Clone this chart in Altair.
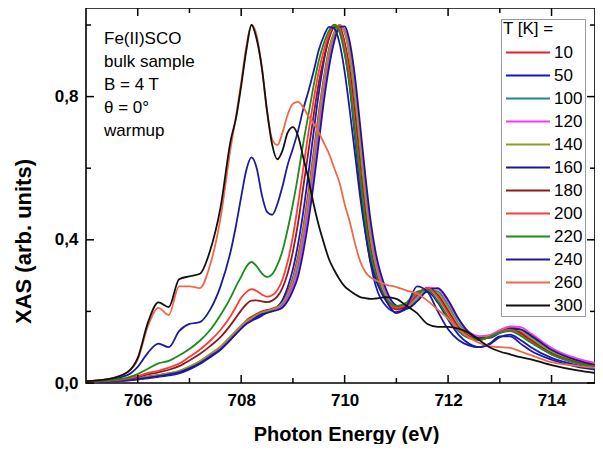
import altair as alt
import pandas as pd

# ---------------- data ----------------
energy = [705.0, 705.4, 705.8, 706.0, 706.2, 706.4, 706.6, 706.8, 707.0, 707.2, 707.4, 707.6, 707.8,
          707.9, 708.0, 708.1, 708.2, 708.3, 708.4, 708.5, 708.6, 708.7, 708.8, 708.9, 709.0, 709.1, 709.2,
          709.3, 709.4, 709.5, 709.6, 709.7, 709.8, 709.9, 710.0, 710.1, 710.2, 710.3, 710.4, 710.5, 710.6,
          710.8, 711.0, 711.2, 711.4, 711.6, 711.8, 712.0, 712.2, 712.4, 712.6, 712.8, 713.0, 713.2, 713.4,
          713.6, 714.0, 714.5, 715.0]

t10 = [0.003, 0.005, 0.009, 0.013, 0.018, 0.023, 0.027, 0.032, 0.045, 0.06, 0.08, 0.1, 0.13,
       0.145, 0.16, 0.175, 0.185, 0.193, 0.2, 0.204, 0.208, 0.214, 0.228, 0.255, 0.295, 0.355, 0.435,
       0.535, 0.645, 0.755, 0.855, 0.935, 0.98, 1.0, 0.98, 0.91, 0.79, 0.645, 0.505, 0.39, 0.315,
       0.232, 0.205, 0.208, 0.238, 0.265, 0.248, 0.203, 0.158, 0.133, 0.125, 0.13, 0.143, 0.152, 0.142, 0.122, 0.086, 0.06, 0.045]
t50 = [0.002, 0.004, 0.007, 0.01, 0.013, 0.017, 0.021, 0.027, 0.038, 0.053, 0.072, 0.093, 0.122,
       0.138, 0.153, 0.167, 0.174, 0.18, 0.188, 0.197, 0.203, 0.212, 0.232, 0.268, 0.318, 0.388, 0.478,
       0.585, 0.7, 0.81, 0.9, 0.968, 1.0, 0.985, 0.925, 0.825, 0.685, 0.545, 0.425, 0.335, 0.272,
       0.215, 0.198, 0.208, 0.242, 0.255, 0.225, 0.177, 0.135, 0.11, 0.1, 0.108, 0.128, 0.135, 0.12, 0.1, 0.07, 0.05, 0.036]
t100 = [0.003, 0.005, 0.009, 0.012, 0.016, 0.021, 0.026, 0.033, 0.045, 0.06, 0.079, 0.1, 0.129,
        0.144, 0.159, 0.171, 0.18, 0.189, 0.196, 0.2, 0.205, 0.21, 0.22, 0.244, 0.279, 0.33, 0.408,
        0.5, 0.608, 0.72, 0.828, 0.918, 0.972, 0.998, 0.985, 0.925, 0.815, 0.675, 0.535, 0.415, 0.335,
        0.247, 0.21, 0.208, 0.235, 0.26, 0.256, 0.217, 0.167, 0.139, 0.128, 0.132, 0.145, 0.155, 0.149, 0.129, 0.09, 0.063, 0.048]
t120 = [0.003, 0.005, 0.009, 0.012, 0.016, 0.02, 0.025, 0.032, 0.043, 0.057, 0.077, 0.097, 0.126,
        0.141, 0.156, 0.169, 0.177, 0.187, 0.194, 0.198, 0.202, 0.207, 0.215, 0.236, 0.268, 0.313, 0.388,
        0.478, 0.583, 0.697, 0.808, 0.9, 0.963, 0.995, 0.99, 0.938, 0.835, 0.695, 0.555, 0.435, 0.35,
        0.253, 0.216, 0.214, 0.24, 0.266, 0.263, 0.227, 0.177, 0.143, 0.131, 0.134, 0.148, 0.158, 0.156, 0.138, 0.098, 0.068, 0.052]
t140 = [0.003, 0.005, 0.009, 0.012, 0.017, 0.022, 0.027, 0.034, 0.046, 0.061, 0.081, 0.102, 0.131,
        0.146, 0.161, 0.173, 0.181, 0.19, 0.197, 0.201, 0.206, 0.212, 0.224, 0.249, 0.288, 0.343, 0.423,
        0.518, 0.628, 0.74, 0.845, 0.928, 0.978, 1.0, 0.98, 0.912, 0.798, 0.658, 0.518, 0.402, 0.326,
        0.242, 0.21, 0.211, 0.237, 0.26, 0.251, 0.211, 0.163, 0.136, 0.127, 0.131, 0.144, 0.153, 0.146, 0.126, 0.088, 0.062, 0.047]
t160 = [0.002, 0.004, 0.008, 0.011, 0.015, 0.019, 0.024, 0.03, 0.041, 0.055, 0.074, 0.094, 0.122,
        0.137, 0.152, 0.165, 0.174, 0.184, 0.192, 0.196, 0.2, 0.204, 0.211, 0.229, 0.258, 0.298, 0.366,
        0.452, 0.556, 0.672, 0.788, 0.884, 0.954, 0.994, 0.996, 0.952, 0.855, 0.72, 0.58, 0.455, 0.365,
        0.262, 0.216, 0.208, 0.228, 0.258, 0.265, 0.232, 0.18, 0.141, 0.125, 0.126, 0.14, 0.152, 0.15, 0.133, 0.093, 0.063, 0.045]
t180 = [0.003, 0.006, 0.011, 0.017, 0.024, 0.03, 0.037, 0.047, 0.063, 0.081, 0.103, 0.128, 0.163,
        0.183, 0.203, 0.22, 0.23, 0.231, 0.228, 0.226, 0.23, 0.242, 0.266, 0.307, 0.367, 0.447, 0.547,
        0.647, 0.747, 0.838, 0.908, 0.963, 0.994, 0.996, 0.952, 0.872, 0.748, 0.603, 0.472, 0.372, 0.307,
        0.233, 0.208, 0.218, 0.248, 0.265, 0.245, 0.2, 0.155, 0.13, 0.122, 0.128, 0.142, 0.15, 0.138, 0.118, 0.082, 0.057, 0.043]
t200 = [0.003, 0.006, 0.012, 0.019, 0.028, 0.034, 0.043, 0.054, 0.073, 0.093, 0.118, 0.148, 0.188,
        0.213, 0.238, 0.254, 0.262, 0.257, 0.247, 0.241, 0.245, 0.26, 0.29, 0.34, 0.41, 0.5, 0.6,
        0.7, 0.79, 0.87, 0.93, 0.975, 1.0, 0.99, 0.94, 0.85, 0.72, 0.58, 0.45, 0.36, 0.3,
        0.23, 0.21, 0.22, 0.25, 0.265, 0.24, 0.195, 0.152, 0.128, 0.12, 0.128, 0.142, 0.148, 0.135, 0.115, 0.08, 0.055, 0.042]
t220 = [0.003, 0.007, 0.015, 0.025, 0.04, 0.055, 0.062, 0.077, 0.095, 0.118, 0.148, 0.19, 0.24,
        0.27, 0.297, 0.325, 0.338, 0.326, 0.306, 0.296, 0.304, 0.33, 0.37, 0.43, 0.5, 0.58, 0.67,
        0.75, 0.83, 0.9, 0.95, 0.985, 1.0, 0.98, 0.92, 0.83, 0.7, 0.57, 0.45, 0.36, 0.3,
        0.235, 0.215, 0.225, 0.255, 0.26, 0.23, 0.185, 0.145, 0.125, 0.12, 0.128, 0.14, 0.145, 0.132, 0.113, 0.08, 0.055, 0.042]
t240 = [0.005, 0.01, 0.022, 0.045, 0.085, 0.11, 0.1, 0.145, 0.165, 0.17, 0.205, 0.27, 0.37,
        0.44, 0.52, 0.595, 0.63, 0.6, 0.525, 0.478, 0.47, 0.5, 0.55, 0.61, 0.655, 0.705, 0.765,
        0.815, 0.87, 0.93, 0.97, 0.995, 0.99, 0.95, 0.87, 0.76, 0.64, 0.52, 0.42, 0.34, 0.29,
        0.23, 0.195, 0.215, 0.27, 0.255, 0.2, 0.15, 0.12, 0.105, 0.1, 0.11, 0.13, 0.13, 0.11, 0.09, 0.065, 0.045, 0.035]
t260 = [0.005, 0.01, 0.03, 0.065, 0.16, 0.21, 0.19, 0.27, 0.27, 0.265, 0.33, 0.46, 0.66,
        0.745, 0.84, 0.94, 1.0, 0.97, 0.88, 0.76, 0.68, 0.665, 0.7, 0.75, 0.78, 0.785, 0.77,
        0.745, 0.725, 0.7, 0.67, 0.64, 0.6, 0.56, 0.5, 0.45, 0.39, 0.34, 0.31, 0.295, 0.287,
        0.275, 0.268, 0.258, 0.25, 0.23, 0.205, 0.18, 0.15, 0.128, 0.112, 0.103, 0.1, 0.098, 0.088, 0.078, 0.058, 0.048, 0.04]
t300 = [0.005, 0.01, 0.03, 0.07, 0.17, 0.225, 0.212, 0.29, 0.298, 0.305, 0.37, 0.49, 0.68,
        0.74, 0.83, 0.93, 1.0, 0.96, 0.88, 0.76, 0.665, 0.625, 0.65, 0.7, 0.715, 0.69, 0.63,
        0.57, 0.5, 0.44, 0.39, 0.345, 0.315, 0.29, 0.27, 0.258, 0.248, 0.24, 0.237, 0.235, 0.236,
        0.24, 0.235, 0.215, 0.195, 0.165, 0.157, 0.157, 0.152, 0.14, 0.12, 0.1, 0.088, 0.08, 0.072, 0.066, 0.05, 0.035, 0.025]

temps = ["10", "50", "100", "120", "140", "160", "180", "200", "220", "240", "260", "300"]
colors = ["#e0202a", "#1414d2", "#1f8a8a", "#ff30ff", "#909a30", "#1a1a8c",
          "#8b1a1a", "#ff3a3a", "#1a8c1a", "#1c1c9a", "#f0684a", "#111111"]
series = [t10, t50, t100, t120, t140, t160, t180, t200, t220, t240, t260, t300]

x_major = [706, 708, 710, 712, 714]
x_minor = [707, 709, 711, 713]
y_major = [0.0, 0.4, 0.8]
y_minor = [0.2, 0.6, 1.0]
note_lines = ["Fe(II)SCO", "bulk sample", "B = 4 T", "\u03b8 = 0\u00b0", "warmup"]

# ---------------- build ----------------
rows = []
for t, vals in zip(temps, series):
    for e, v in zip(energy, vals):
        rows.append({"E": e, "XAS": v, "T": t})
df = pd.DataFrame(rows)

FONT = "Liberation Sans"
W, H = 509, 375
xs = alt.Scale(domain=[705, 714.84], nice=False, zero=False)
ys = alt.Scale(domain=[0, 1.0475], nice=False, zero=False)

lines = alt.Chart(df).mark_line(strokeWidth=1.8, interpolate="monotone", clip=True).encode(
    x=alt.X("E:Q", scale=xs, axis=alt.Axis(
        title="Photon Energy (eV)", values=x_major, format="d",
        labelFont=FONT, labelFontSize=17, labelFontWeight="bold", labelColor="black",
        ticks=False, tickSize=0, domain=False, grid=False, labelPadding=9,
        titleFont=FONT, titleFontSize=20, titleFontWeight="bold", titleColor="black",
        titleBaseline="middle", titleX=260, titleY=51)),
    y=alt.Y("XAS:Q", scale=ys, axis=alt.Axis(
        title="XAS (arb. units)", values=y_major,
        labelExpr="replace(format(datum.value, '.1f'), '.', ',')",
        labelFont=FONT, labelFontSize=17, labelFontWeight="bold", labelColor="black",
        ticks=False, tickSize=0, domain=False, grid=False, labelPadding=8,
        titleFont=FONT, titleFontSize=22, titleFontWeight="bold", titleColor="black",
        titleAngle=270, titleAlign="center", titleBaseline="middle", titleX=-63, titleY=233)),
    color=alt.Color("T:N", sort=temps, scale=alt.Scale(domain=temps, range=colors),
                    legend=alt.Legend(
                        title="T [K] =", orient="none", legendX=415, legendY=11,
                        symbolType="M-1,0H7", symbolSize=121, symbolStrokeWidth=2,
                        labelFont=FONT, labelFontSize=17, labelColor="black",
                        titleFont=FONT, titleFontSize=17, titleFontWeight="normal", titleColor="black",
                        padding=2, rowPadding=5, titlePadding=6, labelOffset=34,
                        strokeColor="#999999", fillColor="white")),
)


def xticks(vals, top, length):
    d = pd.DataFrame({"v": vals})
    if top:
        yy, yy2 = 0, length
    else:
        yy, yy2 = H, H - length
    return alt.Chart(d).mark_rule(color="black", strokeWidth=1.5).encode(
        x=alt.X("v:Q", scale=xs, axis=None), y=alt.value(yy), y2=alt.value(yy2))


def yticks(vals, right, length):
    d = pd.DataFrame({"v": vals})
    if right:
        xx, xx2 = W, W - length
    else:
        xx, xx2 = 0, length
    return alt.Chart(d).mark_rule(color="black", strokeWidth=1.5).encode(
        y=alt.Y("v:Q", scale=ys, axis=None), x=alt.value(xx), x2=alt.value(xx2))


note = alt.Chart(pd.DataFrame({"t": ["\n".join(note_lines)]})).mark_text(
    lineBreak="\n", align="left", baseline="alphabetic", fontSize=17, lineHeight=23,
    font=FONT, color="black").encode(x=alt.value(18), y=alt.value(36), text="t:N")

chart = alt.layer(
    lines,
    xticks(x_major, False, 8), xticks(x_minor, False, 5),
    xticks(x_major, True, 8), xticks(x_minor, True, 5),
    yticks(y_major, False, 8), yticks(y_minor, False, 5),
    yticks(y_major, True, 8), yticks(y_minor, True, 5),
    note,
).resolve_axis(x="independent", y="independent").properties(
    width=W, height=H,
    padding={"left": 78, "top": 0, "right": 0, "bottom": 61},
    autosize=alt.AutoSizeParams(type="none"),
    background="white",
).configure_view(stroke="black", strokeWidth=1.6)

chart.save("out.html", embed_options={"renderer": "svg", "actions": False})
